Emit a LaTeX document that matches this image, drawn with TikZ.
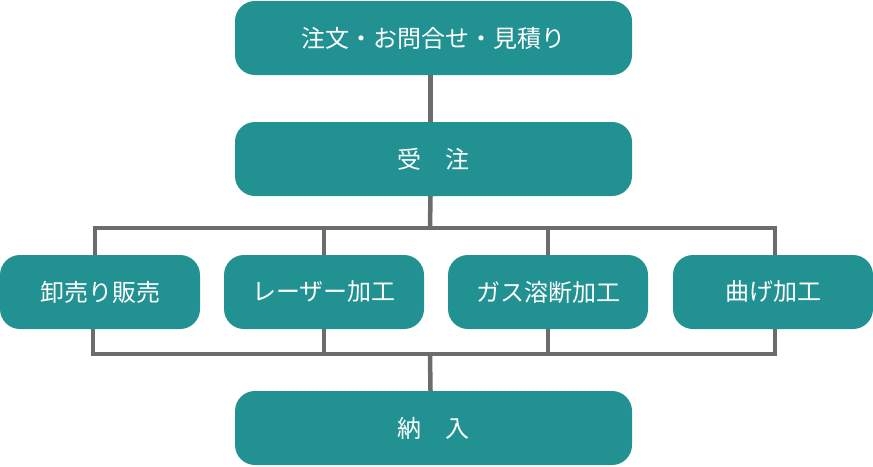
\documentclass[tikz,border=0pt]{standalone}
\usepackage{fontspec}
\newfontfamily\jpfont{Noto Sans CJK JP}
\definecolor{boxteal}{RGB}{34,145,146}
\definecolor{linegray}{RGB}{108,108,108}

\begin{document}
\begin{tikzpicture}[x=1pt,y=-1pt]
	\tikzstyle{every node}=[inner sep=0pt, rectangle, rounded corners=20pt, fill=boxteal, text=white, minimum height=74pt, font=\jpfont\fontsize{24}{28}\selectfont]
	\tikzstyle{wide}=[minimum width=397pt]
	\tikzstyle{narrow}=[minimum width=200pt]
	\tikzstyle{link}=[draw=linegray, line width=4.5pt]
	\useasboundingbox (0,0) rectangle (873,466);
	\draw (433.5,38) node (b1) [wide] {注文・お問合せ・見積り};
	\draw (433.5,159) node (b2) [wide] {受　注};
	\draw (100,292) node (b3) [narrow] {卸売り販売};
	\draw (324,292) node (b4) [narrow] {レーザー加工};
	\draw (548,292) node (b5) [narrow] {ガス溶断加工};
	\draw (773,292) node (b6) [narrow] {曲げ加工};
	\draw (433.5,428) node (b7) [wide] {納　入};
	\coordinate (t) at (430,228);
	\coordinate (u) at (430,354);
	\draw[link] ([xshift=-3pt]b1.south) -- ([xshift=-3pt]b2.north);
	\draw[link] ([xshift=-3pt]b2.south) -- (t);
	\draw[link] ([xshift=-5pt]b3.north) -- ([xshift=-5pt]b3.north |- t) -- ([xshift=2pt]b6.north |- t) -- ([xshift=2pt]b6.north);
	\draw[link] (b4.north) -- (b4.north |- t);
	\draw[link] (b5.north) -- (b5.north |- t);
	\draw[link] ([xshift=-7pt]b3.south) -- ([xshift=-7pt]b3.south |- u) -- ([xshift=2pt]b6.south |- u) -- ([xshift=2pt]b6.south);
	\draw[link] (b4.south) -- (b4.south |- u);
	\draw[link] (b5.south) -- (b5.south |- u);
	\draw[link] (u) -- ([xshift=-3pt]b7.north);
\end{tikzpicture}
\end{document}
